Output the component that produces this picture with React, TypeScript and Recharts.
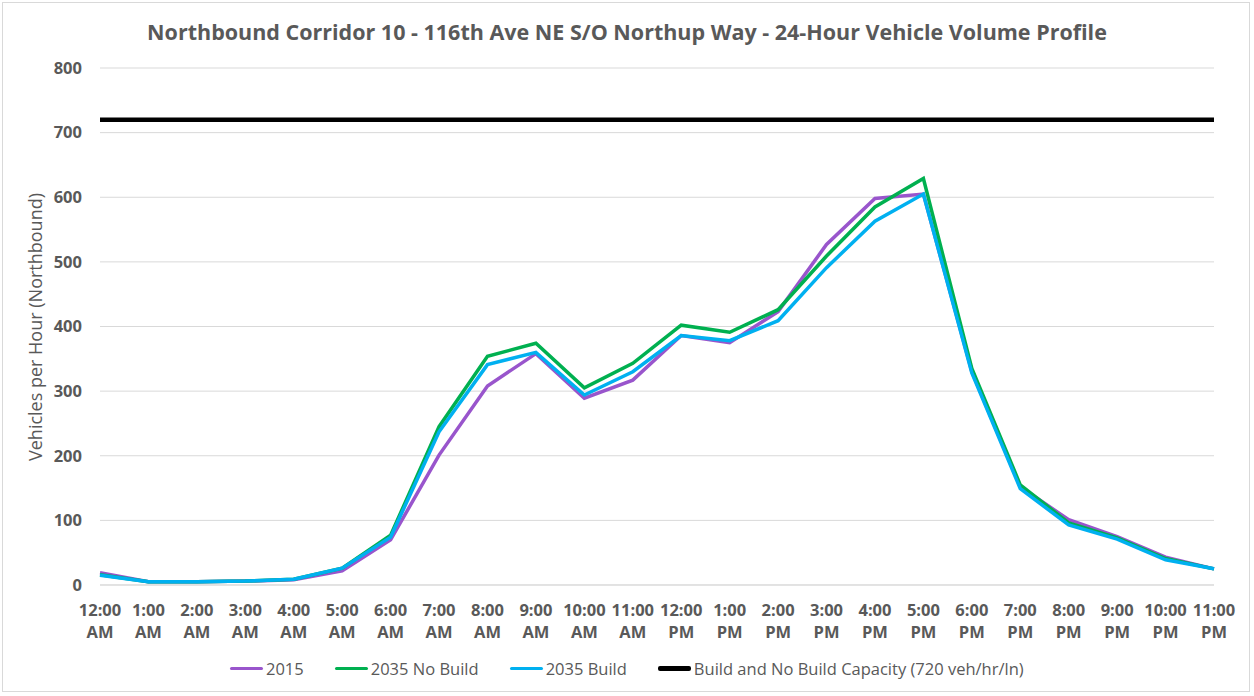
import { LineChart, Line, XAxis, YAxis, CartesianGrid, Legend } from "recharts"

const hours = [
  "12:00 AM", "1:00 AM", "2:00 AM", "3:00 AM", "4:00 AM", "5:00 AM", "6:00 AM", "7:00 AM",
  "8:00 AM", "9:00 AM", "10:00 AM", "11:00 AM", "12:00 PM", "1:00 PM", "2:00 PM", "3:00 PM",
  "4:00 PM", "5:00 PM", "6:00 PM", "7:00 PM", "8:00 PM", "9:00 PM", "10:00 PM", "11:00 PM",
]

const y2015 = [19, 5, 5, 6, 8, 22, 70, 201, 308, 358, 289, 317, 386, 375, 423, 527, 598, 605, 330, 152, 101, 75, 43, 25]
const y2035NoBuild = [16, 5, 5, 6, 9, 26, 77, 245, 354, 374, 305, 343, 402, 391, 426, 509, 585, 629, 335, 155, 96, 73, 41, 25]
const y2035Build = [15, 5, 5, 6, 9, 26, 74, 237, 341, 360, 294, 330, 386, 378, 409, 491, 563, 605, 328, 149, 93, 71, 39, 25]
const capacity = 720

const yTicks = [0, 100, 200, 300, 400, 500, 600, 700, 800]

const data = hours.map((h, i) => ({
  hour: h,
  y2015: y2015[i],
  noBuild: y2035NoBuild[i],
  build: y2035Build[i],
  cap: capacity,
}))

const series = [
  { key: "y2015", name: "2015", color: "#9955cc", width: 3.5 },
  { key: "noBuild", name: "2035 No Build", color: "#00b050", width: 3.5 },
  { key: "build", name: "2035 Build", color: "#00b0f0", width: 3.5 },
  { key: "cap", name: "Build and No Build Capacity (720 veh/hr/ln)", color: "#000000", width: 4.5 },
]

const FONT = "'Open Sans', sans-serif"
const GRAY = "#595959"

function TimeTick(props: any) {
  const { x, y, payload } = props
  const [t, ap] = String(payload.value).split(" ")
  return (
    <g transform={`translate(${x},${y})`}>
      <text textAnchor="middle" fill={GRAY} fontSize={16.5} fontWeight={700} fontFamily={FONT}>
        <tspan x={0} dy={23}>{t}</tspan>
        <tspan x={0} dy={22}>{ap}</tspan>
      </text>
    </g>
  )
}

function LegendRow() {
  return (
    <div style={{ display: "flex", alignItems: "center", fontFamily: FONT, fontSize: 16.5, color: GRAY }}>
      {series.map((s) => (
        <div key={s.key} style={{ display: "flex", alignItems: "center", marginRight: 31 }}>
          <div style={{ width: 33, height: s.width, background: s.color, borderRadius: 2, marginRight: 3 }} />
          <span>{s.name}</span>
        </div>
      ))}
    </div>
  )
}

export default function App() {
  return (
    <div style={{ position: "fixed", left: 0, top: 0, width: 1254, height: 696, background: "#fff" }}>
      <div
        style={{
          position: "absolute", left: 2, top: 2, width: 1248, height: 690,
          border: "1px solid #d9d9d9", boxSizing: "border-box",
        }}
      />
      <div
        style={{
          position: "absolute", top: 17, left: 0, width: 1254, textAlign: "center",
          fontFamily: FONT, fontWeight: 700, fontSize: 21.5, color: GRAY, lineHeight: "30px",
        }}
      >
        Northbound Corridor 10 - 116th Ave NE S/O Northup Way - 24-Hour Vehicle Volume Profile
      </div>
      <LineChart
        width={1254}
        height={696}
        data={data}
        margin={{ top: 68, right: 40, left: 0, bottom: 51 }}
        style={{ position: "absolute", left: 0, top: 0 }}
      >
        <CartesianGrid vertical={false} stroke="#d9d9d9" strokeWidth={1} />
        <XAxis
          dataKey="hour"
          interval={0}
          height={60}
          axisLine={{ stroke: "#d9d9d9" }}
          tickLine={false}
          tick={<TimeTick />}
        />
        <YAxis
          domain={[0, 800]}
          ticks={yTicks}
          width={100}
          axisLine={false}
          tickLine={false}
          tickMargin={12}
          tick={{ fill: GRAY, fontSize: 16.5, fontWeight: 700, fontFamily: FONT }}
          label={{
            content: () => (
              <text
                x={35}
                y={327}
                transform="rotate(-90, 35, 327)"
                textAnchor="middle"
                dominantBaseline="central"
                fill={GRAY}
                fontSize={18}
                fontFamily={FONT}
              >
                Vehicles per Hour (Northbound)
              </text>
            ),
          }}
        />
        <Legend
          verticalAlign="middle"
          align="center"
          content={<LegendRow />}
          wrapperStyle={{ top: 657, left: 230, width: 950, height: 26 }}
        />
        {series.map((s) => (
          <Line
            key={s.key}
            dataKey={s.key}
            name={s.name}
            stroke={s.color}
            strokeWidth={s.width}
            dot={false}
            activeDot={false}
            type="linear"
            isAnimationActive={false}
          />
        ))}
      </LineChart>
    </div>
  )
}
